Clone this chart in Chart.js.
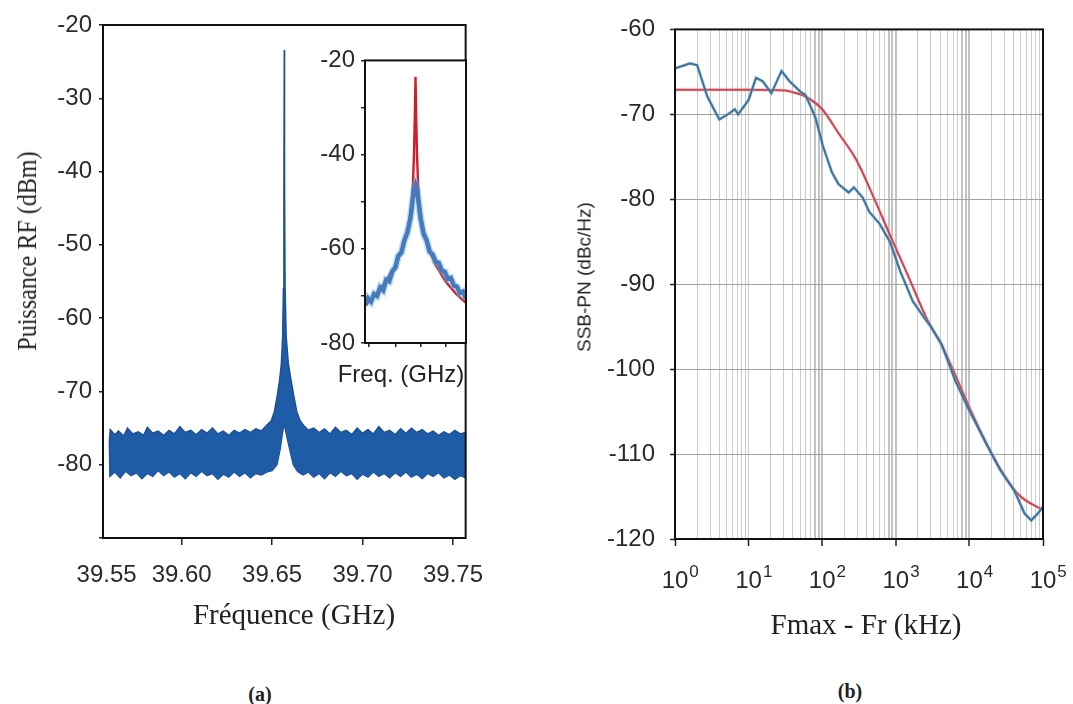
<!DOCTYPE html>
<html>
<head>
<meta charset="utf-8">
<script src="https://cdn.jsdelivr.net/npm/chart.js@4.4.1/dist/chart.umd.min.js"></script>
<style>
  body { margin: 0; background: #fff; width: 1073px; height: 704px; overflow: hidden; position: relative; }
  canvas { position: absolute; }
  .lbl { position: absolute; white-space: nowrap; line-height: 1; color: #222; transform: translate(-50%, -50%); }
  .serif { font-family: 'Liberation Serif', 'Times New Roman', serif; }
  .sans { font-family: 'Liberation Sans', Arial, sans-serif; }
  .rot { transform: translate(-50%, -50%) rotate(-90deg); }
  .rotS { transform: translate(-50%, -50%) rotate(-90deg) scale(0.86, 1); }
</style>
</head>
<body>
<canvas id="spectrum" style="left:0;top:0"></canvas>
<canvas id="inset" style="left:300px;top:40px"></canvas>
<canvas id="noise" style="left:530px;top:0"></canvas>

<div class="lbl serif rotS" style="left:27px;top:251px;font-size:28px">Puissance RF (dBm)</div>
<div class="lbl serif" style="left:294px;top:614px;font-size:29px">Fréquence (GHz)</div>
<div class="lbl serif" style="left:260px;top:694px;font-size:20px;font-weight:bold">(a)</div>
<div class="lbl sans" style="left:401px;top:374px;font-size:24px">Freq. (GHz)</div>
<div class="lbl sans rot" style="left:584px;top:277px;font-size:19px">SSB-PN (dBc/Hz)</div>
<div class="lbl serif" style="left:866px;top:624px;font-size:29px">Fmax - Fr (kHz)</div>
<div class="lbl serif" style="left:850px;top:691px;font-size:20px;font-weight:bold">(b)</div>

<script>
// ---- panel (a): RF spectrum, upper / lower edge of the noisy trace ----
const freqUpper = [39.5600, 39.5605, 39.5630, 39.5650, 39.5680, 39.5700, 39.5730, 39.5760, 39.5790, 39.5810,
  39.5840, 39.5870, 39.5900, 39.5930, 39.5960, 39.5990, 39.6020, 39.6050, 39.6080, 39.6110,
  39.6140, 39.6170, 39.6200, 39.6230, 39.6260, 39.6290, 39.6320, 39.6350, 39.6380, 39.6410,
  39.6440, 39.6470, 39.6495, 39.6512, 39.6528, 39.6541, 39.6551, 39.6558, 39.6562, 39.6565,
  39.6567, 39.6569, 39.6572, 39.6578, 39.6590, 39.6605, 39.6620, 39.6637, 39.6655, 39.6680,
  39.6700, 39.6730, 39.6760, 39.6790, 39.6820, 39.6850, 39.6880, 39.6910, 39.6940, 39.6970,
  39.7000, 39.7030, 39.7060, 39.7090, 39.7120, 39.7150, 39.7180, 39.7210, 39.7240, 39.7270,
  39.7300, 39.7330, 39.7360, 39.7390, 39.7420, 39.7450, 39.7480, 39.7510, 39.7540, 39.7570];
const powerUpper = [-76.8, -75.2, -75.9, -75.4, -76.1, -75.0, -75.8, -75.5, -76.0, -74.9,
  -75.7, -75.4, -76.0, -75.3, -75.8, -74.8, -75.6, -75.3, -75.9, -75.2,
  -75.7, -75.0, -75.8, -75.4, -76.0, -75.3, -75.7, -75.2, -75.6, -75.1,
  -75.4, -74.6, -74.0, -72.8, -70.6, -68.5, -66.2, -62.5, -56.0, -42.0,
  -23.4, -42.0, -56.0, -62.5, -66.2, -68.5, -70.6, -72.8, -74.0, -74.8,
  -75.3, -75.0, -75.6, -75.1, -75.8, -74.9, -75.6, -75.3, -75.9, -75.0,
  -75.7, -75.2, -75.8, -74.8, -75.6, -75.3, -75.9, -75.1, -75.7, -75.0,
  -75.6, -75.2, -75.8, -75.4, -76.0, -75.5, -75.9, -75.3, -75.8, -75.6];
const freqLower = [39.5600, 39.5603, 39.5630, 39.5660, 39.5690, 39.5720, 39.5750, 39.5780, 39.5810, 39.5840,
  39.5870, 39.5900, 39.5930, 39.5960, 39.5990, 39.6020, 39.6050, 39.6080, 39.6110, 39.6140,
  39.6170, 39.6200, 39.6230, 39.6260, 39.6290, 39.6320, 39.6350, 39.6380, 39.6410, 39.6440,
  39.6470, 39.6500, 39.6527, 39.6545, 39.6558, 39.6567, 39.6578, 39.6598, 39.6617, 39.6640,
  39.6670, 39.6700, 39.6730, 39.6760, 39.6790, 39.6820, 39.6850, 39.6880, 39.6910, 39.6940,
  39.6970, 39.7000, 39.7030, 39.7060, 39.7090, 39.7120, 39.7150, 39.7180, 39.7210, 39.7240,
  39.7270, 39.7300, 39.7330, 39.7360, 39.7390, 39.7420, 39.7450, 39.7480, 39.7510, 39.7540, 39.7570];
const powerLower = [-76.8, -81.6, -81.0, -81.8, -80.9, -81.5, -81.1, -81.9, -81.2, -81.6,
  -80.8, -81.5, -81.0, -81.7, -81.2, -81.9, -81.1, -81.6, -80.9, -81.5,
  -81.2, -82.0, -81.3, -81.7, -81.0, -81.6, -81.1, -81.8, -81.2, -81.4,
  -81.0, -80.8, -80.0, -77.8, -75.6, -74.4, -75.8, -78.0, -80.0, -80.9,
  -81.4, -81.0, -81.7, -81.2, -81.9, -81.1, -81.6, -80.9, -81.5, -81.2,
  -82.0, -81.3, -81.7, -81.0, -81.6, -81.2, -81.8, -81.1, -81.6, -81.0,
  -81.7, -81.3, -81.9, -81.2, -81.6, -81.1, -81.8, -81.4, -82.0, -81.5, -81.8];
const freqTicks = [39.5585, 39.60, 39.65, 39.70, 39.75];
const freqTickLabels = ['39.55', '39.60', '39.65', '39.70', '39.75'];

// ---- inset: zoom on the line (arbitrary frequency units) ----
const insetX = [0, 3, 6, 9, 12, 15, 18, 21, 24, 27, 30, 33, 36, 39, 42, 45, 47, 48.5, 50,
  51.5, 53, 55, 58, 61, 64, 67, 70, 73, 76, 79, 82, 85, 88, 91, 94, 97, 100];
const insetMeasured = [-72.0, -70.5, -71.2, -69.6, -70.0, -68.2, -68.8, -66.6, -66.9, -64.8, -64.0, -61.5,
  -60.8, -58.2, -56.5, -53.5, -50.0, -47.5, -46.5, -47.5, -50.0, -53.5, -56.8, -58.2, -60.6, -61.2,
  -62.8, -63.0, -64.6, -64.9, -66.4, -66.2, -67.8, -68.0, -69.4, -69.1, -70.6];
const insetFitX = [0, 10, 20, 30, 36, 40, 44, 46, 47.5, 48.5, 49.3, 50, 50.7, 51.5, 52.5, 54, 56, 60, 64, 70, 80, 90, 100];
const insetFit = [-72, -70, -67, -63.5, -60.5, -58, -54, -50.5, -46, -40, -32, -23.5, -32, -40, -46, -50.5,
  -54, -58, -60.5, -63.5, -67, -69.5, -71.5];
const insetTicks = [4, 30, 55, 80];

// ---- panel (b): single sideband phase noise ----
const offsetKHz = [1, 1.6, 2.0, 2.75, 4.0, 5.2, 6.5, 7.2, 10, 12.6, 15.5, 20.4, 28, 36, 50, 59, 69, 81,
  102, 135, 166, 229, 269, 355, 437, 603, 832, 1150, 1700, 2450, 2900, 4200, 6450, 10000, 17000,
  26300, 40700, 56200, 69200, 85100, 100000];
const ssbMeasured = [-64.6, -64.0, -64.2, -67.9, -70.6, -70.0, -69.4, -70.0, -68.3, -65.7, -66.1, -67.5,
  -64.9, -66.1, -67.3, -67.7, -69.0, -70.4, -73.7, -76.8, -78.2, -79.2, -78.6, -79.8, -81.5, -82.9,
  -85.0, -88.5, -92.0, -94.0, -94.8, -97.1, -101.4, -104.9, -108.8, -111.9, -114.3, -117.0, -117.8,
  -117.0, -116.2];
const fitKHz = [1, 10, 31.6, 36, 59, 100, 166, 288, 490, 832, 1450, 2750, 4170, 10000, 21400, 45700, 100000];
const ssbFit = [-67.1, -67.1, -67.2, -67.3, -67.9, -69.4, -72.2, -75.3, -79.6, -84.2, -88.9, -94.4,
  -97.1, -104.5, -110.4, -114.7, -116.6];
const decadeTicks = [1, 10, 100, 1000, 10000, 100000];

const pts = (xs, ys) => xs.map((x, i) => ({ x: x, y: ys[i] }));

Chart.defaults.font.family = "'Liberation Sans', Arial, sans-serif";
Chart.defaults.color = '#2a2a2a';
Chart.defaults.animation = false;
Chart.defaults.responsive = false;
Chart.defaults.plugins.legend.display = false;
Chart.defaults.plugins.tooltip.enabled = false;
Chart.defaults.elements.point.radius = 0;

// black box round the plot area, white under it when asked
const framePlugin = {
  id: 'frame',
  beforeDraw(chart, args, opts) {
    if (!opts.fill) return;
    const { ctx, chartArea: a } = chart;
    ctx.save();
    ctx.fillStyle = '#fff';
    ctx.fillRect(a.left, a.top, a.right - a.left, a.bottom - a.top);
    ctx.restore();
  },
  afterDraw(chart) {
    const { ctx, chartArea: a } = chart;
    ctx.save();
    ctx.strokeStyle = '#111';
    ctx.lineWidth = 2;
    ctx.strokeRect(a.left, a.top, a.right - a.left, a.bottom - a.top);
    ctx.restore();
  }
};

function setSize(id, w, h) {
  const c = document.getElementById(id);
  c.width = w; c.height = h;
  c.style.width = w + 'px'; c.style.height = h + 'px';
  return c;
}

// Panel (a)
new Chart(setSize('spectrum', 500, 660), {
  type: 'line',
  data: {
    datasets: [{
      data: pts(freqUpper, powerUpper),
      borderColor: '#1b4f95',
      borderWidth: 1.4,
      backgroundColor: '#1f5ca8',
      fill: '+1'
    }, {
      data: pts(freqLower, powerLower),
      borderColor: '#1b4f95',
      borderWidth: 1.4,
      fill: false
    }]
  },
  options: {
    layout: { padding: { top: 25, right: 28, left: 0, bottom: 0 } },
    scales: {
      x: {
        type: 'linear', min: 39.5565, max: 39.757,
        afterFit: (s) => { s.height = 122; },
        afterBuildTicks: (s) => { s.ticks = freqTicks.map(v => ({ value: v })); },
        border: { display: false },
        grid: {
          drawOnChartArea: false, tickLength: 7,
          tickColor: (c) => c.index === 0 ? 'rgba(0,0,0,0)' : '#222', lineWidth: 1.5
        },
        ticks: {
          autoSkip: false, maxRotation: 0, padding: 16,
          font: { size: 24 },
          callback: (v, i) => freqTickLabels[i]
        }
      },
      y: {
        min: -90, max: -20,
        afterFit: (s) => { s.width = 103; },
        border: { display: false },
        grid: { drawOnChartArea: false, tickLength: 4, tickColor: '#222', lineWidth: 1.5 },
        ticks: {
          stepSize: 10, padding: 7, font: { size: 24 },
          callback: (v) => v === -90 ? '' : String(v)
        }
      }
    },
    plugins: { frame: { fill: false } }
  },
  plugins: [framePlugin]
});

// Inset
new Chart(setSize('inset', 180, 330), {
  type: 'line',
  data: {
    datasets: [{
      data: pts(insetX, insetMeasured),
      borderColor: 'rgba(100,190,230,0.45)', borderWidth: 7.5, fill: false
    }, {
      data: pts(insetX, insetMeasured),
      borderColor: '#34409a', borderWidth: 4.5, fill: false
    }, {
      data: pts(insetFitX, insetFit),
      borderColor: '#d01e2c', borderWidth: 2.4, fill: false
    }]
  },
  options: {
    layout: { padding: { top: 18, right: 14, left: 0, bottom: 0 } },
    scales: {
      x: {
        type: 'linear', min: 0, max: 100,
        afterFit: (s) => { s.height = 27; },
        afterBuildTicks: (s) => { s.ticks = insetTicks.map(v => ({ value: v })); },
        border: { display: false },
        grid: { drawOnChartArea: false, tickLength: 4, tickColor: '#222', lineWidth: 1.5 },
        ticks: { callback: () => '', font: { size: 2 } }
      },
      y: {
        min: -80, max: -20,
        afterFit: (s) => { s.width = 65; },
        border: { display: false },
        grid: { drawOnChartArea: false, tickLength: 4, tickColor: '#222', lineWidth: 1.5 },
        ticks: {
          stepSize: 10, padding: 6, font: { size: 24 },
          callback: (v) => (v % 20 === 0) ? String(v) : ''
        }
      }
    },
    plugins: { frame: { fill: true } }
  },
  plugins: [framePlugin]
});

// "10" with a raised exponent under each decade of panel (b)
const powerLabels = {
  id: 'powerLabels',
  afterDraw(chart) {
    const { ctx } = chart;
    const xs = chart.scales.x;
    ctx.save();
    ctx.fillStyle = '#2a2a2a';
    ctx.textBaseline = 'alphabetic';
    decadeTicks.forEach((v) => {
      const px = xs.getPixelForValue(v);
      ctx.font = "24px 'Liberation Sans', Arial, sans-serif";
      const w = ctx.measureText('10').width;
      ctx.textAlign = 'center';
      ctx.fillText('10', px, xs.top + 49);
      ctx.font = "17px 'Liberation Sans', Arial, sans-serif";
      ctx.textAlign = 'left';
      ctx.fillText(String(Math.round(Math.log10(v))), px + w / 2 + 1, xs.top + 38);
    });
    ctx.restore();
  }
};

const isDecade = (v) => decadeTicks.includes(v);
const isBand = (v) => [80, 90, 100, 800, 900, 1000, 8000, 9000, 10000].includes(v);
const logGrid = [];
for (let e = 0; e < 5; e++) {
  for (let m = 1; m < 10; m++) logGrid.push(m * Math.pow(10, e));
}
logGrid.push(100000);

// Panel (b)
new Chart(setSize('noise', 543, 660), {
  type: 'line',
  data: {
    datasets: [{
      data: pts(offsetKHz, ssbMeasured),
      borderColor: 'rgba(140,200,230,0.3)', borderWidth: 4, fill: false
    }, {
      data: pts(offsetKHz, ssbMeasured),
      borderColor: '#24527c', borderWidth: 2.2, fill: false
    }, {
      data: pts(fitKHz, ssbFit),
      borderColor: 'rgba(240,165,175,0.3)', borderWidth: 4, fill: false,
      cubicInterpolationMode: 'monotone'
    }, {
      data: pts(fitKHz, ssbFit),
      borderColor: '#bc1a2a', borderWidth: 2, fill: false,
      cubicInterpolationMode: 'monotone'
    }]
  },
  options: {
    layout: { padding: { top: 26, right: 30, left: 0, bottom: 0 } },
    scales: {
      x: {
        type: 'logarithmic', min: 1, max: 100000,
        afterFit: (s) => { s.height = 121; },
        afterBuildTicks: (s) => { s.ticks = logGrid.map(v => ({ value: v })); },
        border: { display: false },
        grid: {
          drawOnChartArea: true, tickLength: 7,
          color: (c) => isBand(c.tick.value) ? '#c2c2c2' : '#cbcbcb',
          lineWidth: (c) => isBand(c.tick.value) ? 2 : 1,
          tickColor: (c) => isDecade(c.tick.value) ? '#222' : 'rgba(0,0,0,0)',
          tickWidth: 1.5
        },
        ticks: { autoSkip: false, maxRotation: 0, callback: () => '', font: { size: 2 } }
      },
      y: {
        min: -120, max: -60,
        afterFit: (s) => { s.width = 145; },
        border: { display: false },
        grid: { color: '#a2a2a2', lineWidth: 1, tickLength: 5, tickColor: '#222', tickWidth: 1.5 },
        ticks: { stepSize: 10, padding: 15, font: { size: 24 } }
      }
    },
    plugins: { frame: { fill: false } }
  },
  plugins: [framePlugin, powerLabels]
});
</script>
</body>
</html>
